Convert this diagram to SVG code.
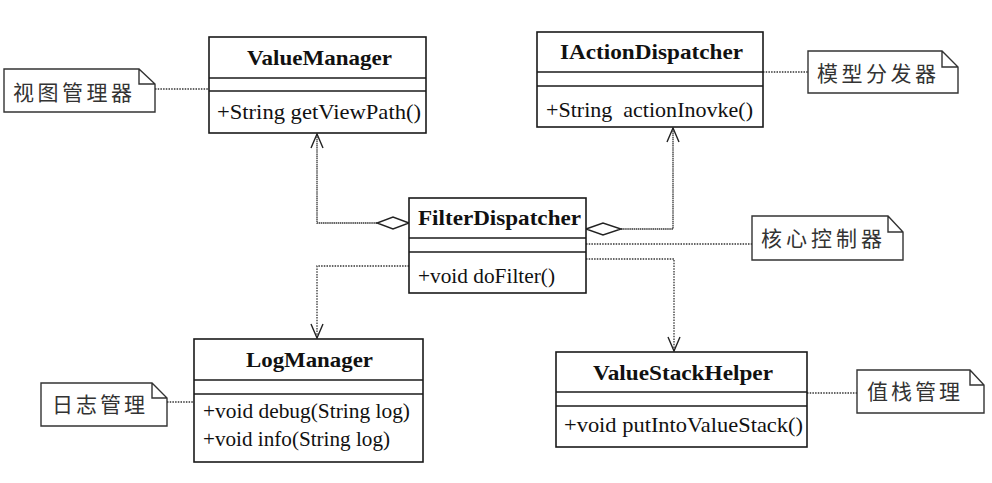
<svg xmlns="http://www.w3.org/2000/svg" width="992" height="483" viewBox="0 0 992 483">
<style>
.box{fill:#fff;stroke:#1a1a1a;stroke-width:1.6}
.sep{stroke:#1a1a1a;stroke-width:1.6;fill:none}
.note{fill:#fff;stroke:#333;stroke-width:1.4}
.cn{font-family:"Noto Sans CJK SC","Noto Sans CJK JP",sans-serif;font-size:21px;fill:#333}
.title{font-family:"Liberation Serif","Times New Roman",serif;font-weight:bold;font-size:21px;fill:#111}
.m{font-family:"Liberation Serif","Times New Roman",serif;font-size:21.5px;fill:#111}
.dot{stroke:#333;stroke-width:1.3;fill:none;stroke-dasharray:1.5 1.2}
.solid{stroke:#333;stroke-width:1.3;fill:none;stroke-dasharray:1.5 0.6}
.open{stroke:#222;stroke-width:1.4;fill:none}
.dia{fill:#fff;stroke:#222;stroke-width:1.4}
</style>

<g id="connectors">
<!-- aggregation FilterDispatcher -> ValueManager -->
<polyline class="solid" points="377,223 317,223 317,134"/>
<path class="open" d="M311,148 L317,134 L323,148"/>
<polygon class="dia" points="409,223 393,217 377,223 393,229"/>
<!-- aggregation FilterDispatcher -> IActionDispatcher -->
<polyline class="solid" points="621,229 673,229 673,128"/>
<path class="open" d="M667,142 L673,128 L679,142"/>
<polygon class="dia" points="586,229 603,223 621,229 603,235"/>
<!-- dependency -> LogManager -->
<polyline class="dot" points="409,266 317,266 317,338"/>
<path class="open" d="M311,324 L317,338 L323,324"/>
<!-- dependency -> ValueStackHelper -->
<polyline class="dot" points="586,259 674,259 674,351"/>
<path class="open" d="M668,337 L674,351 L680,337"/>
<!-- note links -->
<line class="dot" x1="155" y1="89" x2="209" y2="89"/>
<line class="dot" x1="763" y1="72" x2="808" y2="72"/>
<line class="dot" x1="586" y1="244" x2="752" y2="244"/>
<line class="dot" x1="167" y1="402" x2="194" y2="402"/>
<line class="dot" x1="807" y1="393" x2="857" y2="393"/>
</g>

<g id="ValueManager">
<rect class="box" x="209" y="37" width="217" height="96"/>
<line class="sep" x1="209" y1="78" x2="426" y2="78"/>
<line class="sep" x1="209" y1="91" x2="426" y2="91"/>
<text class="title" x="247" y="65" textLength="145" lengthAdjust="spacingAndGlyphs">ValueManager</text>
<text class="m" x="217" y="119" textLength="204" lengthAdjust="spacingAndGlyphs">+String getViewPath()</text>
</g>

<g id="note-view">
<path class="note" d="M4,69 L139,69 L155,84 L155,112 L4,112 Z M139,69 L139,84 L155,84"/>
<text class="cn" x="13" y="100" textLength="119" lengthAdjust="spacing">视图管理器</text>
</g>

<g id="IActionDispatcher">
<rect class="box" x="537" y="32" width="226" height="95"/>
<line class="sep" x1="537" y1="72" x2="763" y2="72"/>
<line class="sep" x1="537" y1="86" x2="763" y2="86"/>
<text class="title" x="560" y="59" textLength="183" lengthAdjust="spacingAndGlyphs">IActionDispatcher</text>
<text class="m" x="546" y="117" textLength="207" lengthAdjust="spacingAndGlyphs" xml:space="preserve">+String  actionInovke()</text>
</g>

<g id="note-model">
<path class="note" d="M808,51 L942,51 L958,67 L958,93 L808,93 Z M942,51 L942,67 L958,67"/>
<text class="cn" x="817" y="81" textLength="119" lengthAdjust="spacing">模型分发器</text>
</g>

<g id="FilterDispatcher">
<rect class="box" x="409" y="198" width="177" height="95"/>
<line class="sep" x1="409" y1="238" x2="586" y2="238"/>
<line class="sep" x1="409" y1="252" x2="586" y2="252"/>
<text class="title" x="418" y="225" textLength="163" lengthAdjust="spacingAndGlyphs">FilterDispatcher</text>
<text class="m" x="418" y="283" textLength="137" lengthAdjust="spacingAndGlyphs">+void doFilter()</text>
</g>

<g id="note-core">
<path class="note" d="M752,216 L888,216 L903,232 L903,260 L752,260 Z M888,216 L888,232 L903,232"/>
<text class="cn" x="761" y="246" textLength="121" lengthAdjust="spacing">核心控制器</text>
</g>

<g id="LogManager">
<rect class="box" x="194" y="339" width="229" height="123"/>
<line class="sep" x1="194" y1="380" x2="423" y2="380"/>
<line class="sep" x1="194" y1="394" x2="423" y2="394"/>
<text class="title" x="246" y="367" textLength="127" lengthAdjust="spacingAndGlyphs">LogManager</text>
<text class="m" x="203" y="418" textLength="207" lengthAdjust="spacingAndGlyphs">+void debug(String log)</text>
<text class="m" x="203" y="446" textLength="187" lengthAdjust="spacingAndGlyphs">+void info(String log)</text>
</g>

<g id="note-log">
<path class="note" d="M41,383 L152,383 L167,398 L167,426 L41,426 Z M152,383 L152,398 L167,398"/>
<text class="cn" x="52" y="412" textLength="93" lengthAdjust="spacing">日志管理</text>
</g>

<g id="ValueStackHelper">
<rect class="box" x="556" y="352" width="251" height="95"/>
<line class="sep" x1="556" y1="392" x2="807" y2="392"/>
<line class="sep" x1="556" y1="406" x2="807" y2="406"/>
<text class="title" x="593" y="380" textLength="180" lengthAdjust="spacingAndGlyphs">ValueStackHelper</text>
<text class="m" x="564" y="432" textLength="239" lengthAdjust="spacingAndGlyphs">+void putIntoValueStack()</text>
</g>

<g id="note-stack">
<path class="note" d="M857,370 L970,370 L984,385 L984,413 L857,413 Z M970,370 L970,385 L984,385"/>
<text class="cn" x="867" y="399" textLength="93" lengthAdjust="spacing">值栈管理</text>
</g>
</svg>
